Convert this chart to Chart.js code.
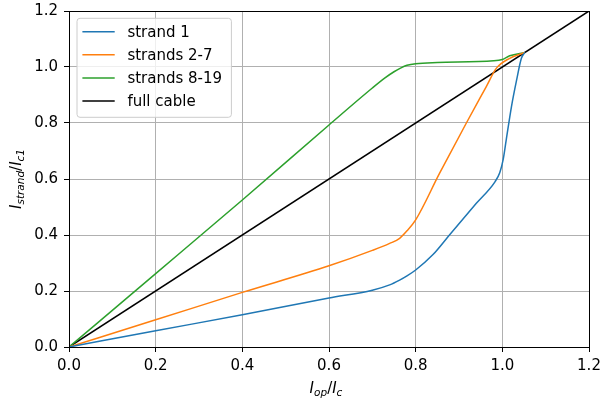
<!DOCTYPE html>
<html>
<head>
<meta charset="utf-8">
<script src="https://cdn.jsdelivr.net/npm/chart.js@4"></script>
<style>
    html, body { margin: 0; padding: 0; background: #fff; }
    #wrap { width: 611px; height: 402px; }
</style>
</head>
<body>
<div id="wrap"><canvas id="chart" width="611" height="402"></canvas></div>
<script>
const xTicks = [0, 0.2, 0.4, 0.6, 0.8, 1.0, 1.2];
const yTicks = [0, 0.2, 0.4, 0.6, 0.8, 1.0, 1.2];

const strand1X = [0, 0.2, 0.4, 0.6, 0.7, 0.74, 0.763, 0.78, 0.8, 0.84, 0.878, 0.94, 0.983, 0.994, 1.002, 1.009, 1.021, 1.033, 1.044, 1.052];
const strand1Y = [0, 0.058, 0.115, 0.175, 0.203, 0.222, 0.239, 0.254, 0.275, 0.33, 0.40, 0.513, 0.59, 0.622, 0.67, 0.74, 0.858, 0.954, 1.031, 1.052];

const strands27X = [0, 0.2, 0.4, 0.6, 0.7, 0.74, 0.763, 0.78, 0.8, 0.855, 0.917, 0.963, 0.986, 1.017, 1.052];
const strands27Y = [0, 0.097, 0.195, 0.29, 0.345, 0.37, 0.388, 0.415, 0.454, 0.62, 0.80, 0.93, 0.995, 1.031, 1.052];

const strands819X = [0, 0.2, 0.4, 0.6, 0.7, 0.73, 0.75, 0.765, 0.78, 0.8, 0.85, 0.98, 1.0, 1.017, 1.052];
const strands819Y = [0, 0.262, 0.525, 0.793, 0.925, 0.962, 0.983, 0.996, 1.006, 1.012, 1.016, 1.022, 1.027, 1.04, 1.052];

const cableX = [0, 1.2];
const cableY = [0, 1.2];

const seriesNames = ["strand 1", "strands 2-7", "strands 8-19", "full cable"];
const seriesColors = ["#1f77b4", "#ff7f0e", "#2ca02c", "#000000"];

function pts(xs, ys) {
    return xs.map((x, i) => ({ x: x, y: ys[i] }));
}

const FONT = "DejaVu Sans";
const FS = 15;

// legend box like matplotlib, upper left
const legendBox = {
    id: "legendBox",
    afterDatasetsDraw(chart) {
        const ctx = chart.ctx;
        const a = chart.chartArea;
        const x0 = a.left + 8, y0 = a.top + 7.3, w = 154.4, h = 99;
        ctx.save();
        ctx.beginPath();
        ctx.roundRect(x0, y0, w, h, 3);
        ctx.fillStyle = "rgba(255,255,255,0.8)";
        ctx.fill();
        ctx.strokeStyle = "#cccccc";
        ctx.lineWidth = 1;
        ctx.stroke();
        ctx.font = FS + "px '" + FONT + "'";
        ctx.textBaseline = "middle";
        ctx.fillStyle = "#000";
        seriesNames.forEach((name, i) => {
            const y = y0 + 13.4 + i * 23.1;
            ctx.beginPath();
            ctx.moveTo(x0 + 5.4, y);
            ctx.lineTo(x0 + 37.7, y);
            ctx.strokeStyle = seriesColors[i];
            ctx.lineWidth = 1.5;
            ctx.stroke();
            ctx.fillText(name, x0 + 50.4, y + 1);
        });
        ctx.restore();
    }
};

// frame + axis titles with subscripts
const frameTitles = {
    id: "frameTitles",
    afterDraw(chart) {
        const ctx = chart.ctx;
        const a = chart.chartArea;
        ctx.save();
        ctx.strokeStyle = "#000";
        ctx.lineWidth = 1;
        ctx.strokeRect(Math.round(a.left) + 0.5, Math.round(a.top) + 0.5,
            Math.round(a.right - a.left), Math.round(a.bottom - a.top));

        const big = "italic " + FS + "px '" + FONT + "'";
        const small = "italic " + (FS * 0.7) + "px '" + FONT + "'";
        const normal = FS + "px '" + FONT + "'";
        const parts = (main, sub1, mid, main2, sub2) => [
            [main, big, 0], [sub1, small, 3], [mid, normal, 0], [main2, big, 0], [sub2, small, 3]
        ];
        function drawParts(list, cx, baseY) {
            let total = 0;
            list.forEach(p => { ctx.font = p[1]; total += ctx.measureText(p[0]).width; });
            let x = cx - total / 2;
            ctx.textBaseline = "alphabetic";
            ctx.textAlign = "left";
            list.forEach(p => {
                ctx.font = p[1];
                ctx.fillText(p[0], x, baseY + p[2]);
                x += ctx.measureText(p[0]).width;
            });
        }
        ctx.fillStyle = "#000";
        drawParts(parts("I", "op", "/", "I", "c"), (a.left + a.right) / 2 - 3, 393);

        ctx.translate(21, (a.top + a.bottom) / 2);
        ctx.rotate(-Math.PI / 2);
        drawParts(parts("I", "strand", "/", "I", "c1"), 0, 0);
        ctx.restore();
    }
};

const data = {
    datasets: [
        { label: seriesNames[0], data: pts(strand1X, strand1Y) },
        { label: seriesNames[1], data: pts(strands27X, strands27Y) },
        { label: seriesNames[2], data: pts(strands819X, strands819Y) },
        { label: seriesNames[3], data: pts(cableX, cableY) }
    ].map((d, i) => Object.assign(d, {
        borderColor: seriesColors[i],
        backgroundColor: seriesColors[i],
        borderWidth: 1.5,
        pointRadius: 0,
        cubicInterpolationMode: "monotone",
        fill: false
    }))
};

const tickFont = { family: FONT, size: FS };

new Chart(document.getElementById("chart"), {
    type: "line",
    data: data,
    plugins: [legendBox, frameTitles],
    options: {
        responsive: false,
        animation: false,
        devicePixelRatio: 1,
        layout: { padding: { left: 0, top: 11, right: 22, bottom: 0 } },
        plugins: {
            legend: { display: false },
            tooltip: { enabled: false }
        },
        scales: {
            x: {
                type: "linear",
                min: 0,
                max: 1.2,
                afterBuildTicks: (s) => { s.ticks = xTicks.map(v => ({ value: v })); },
                afterFit: (s) => {
                    s.height = 55;
                    s.paddingLeft = 0;
                    s.paddingRight = 0;
                },
                ticks: {
                    color: "#000",
                    font: tickFont,
                    padding: 5,
                    maxRotation: 0,
                    callback: (v) => v.toFixed(1)
                },
                grid: { color: "#b0b0b0", lineWidth: 1, tickColor: "#000", tickLength: 5 },
                border: { color: "#000", width: 1 }
            },
            y: {
                type: "linear",
                min: 0,
                max: 1.2,
                afterBuildTicks: (s) => { s.ticks = yTicks.map(v => ({ value: v })); },
                afterFit: (s) => {
                    s.width = 69;
                    s.paddingTop = 0;
                    s.paddingBottom = 0;
                },
                ticks: {
                    color: "#000",
                    font: tickFont,
                    padding: 6,
                    callback: (v) => v.toFixed(1)
                },
                grid: { color: "#b0b0b0", lineWidth: 1, tickColor: "#000", tickLength: 5 },
                border: { color: "#000", width: 1 }
            }
        }
    }
});
</script>
</body>
</html>
